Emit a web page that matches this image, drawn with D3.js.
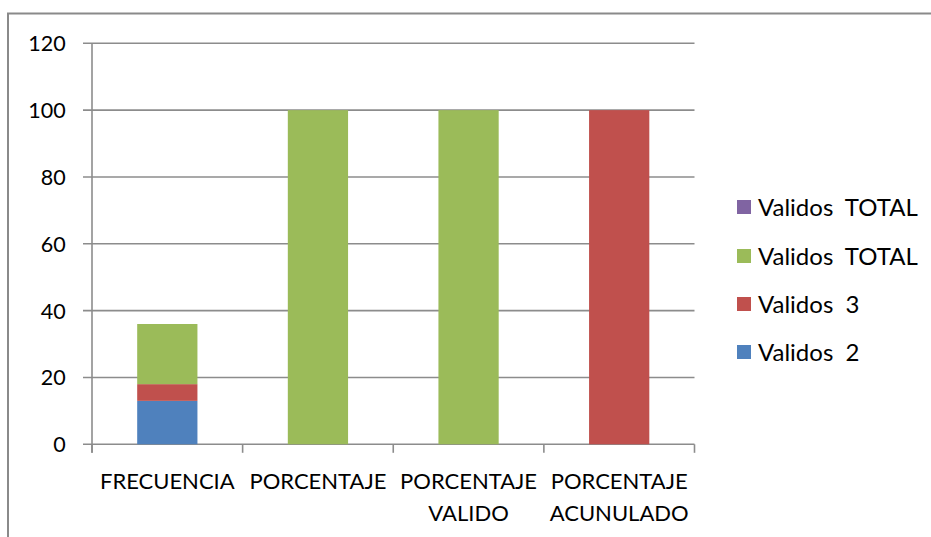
<!DOCTYPE html>
<html>
<head>
<meta charset="utf-8">
<script src="https://cdn.jsdelivr.net/npm/d3@7"></script>
<style>
  html, body { margin: 0; padding: 0; background: #fff; }
  svg text { font-family: Lato, "Open Sans", sans-serif; fill: #000; white-space: pre; }
</style>
</head>
<body>
<svg id="chart" width="931" height="537"></svg>
<script>
// Categories (each label may wrap onto two lines)
const categories = ["FRECUENCIA", "PORCENTAJE", "PORCENTAJE VALIDO", "PORCENTAJE ACUNULADO"];
const categoryLines = [["FRECUENCIA"], ["PORCENTAJE"], ["PORCENTAJE", "VALIDO"], ["PORCENTAJE", "ACUNULADO"]];

// Stacked series, bottom to top
const seriesNames = ["Validos  2", "Validos  3", "Validos  TOTAL", "Validos  TOTAL"];
const validos2 = [13, 0, 0, 0];
const validos3 = [5, 0, 0, 100];
const validosTotal = [18, 100, 100, 0];
const validosTotal2 = [0, 0, 0, 0];
const seriesColors = ["#4F81BD", "#C0504D", "#9BBB59", "#8064A2"];

const yTicks = [0, 20, 40, 60, 80, 100, 120];

const rows = categories.map((c, i) => ({
  cat: c,
  s0: validos2[i], s1: validos3[i], s2: validosTotal[i], s3: validosTotal2[i]
}));
const keys = ["s0", "s1", "s2", "s3"];

const svg = d3.select("#chart");
const plot = { left: 92, right: 694.5, top: 43.3, bottom: 444.3 };
const gridColor = "#8c8c8c";

// Outer frame (top and left edges visible)
svg.append("path")
  .attr("d", "M8,537 L8,13.5 L931,13.5")
  .attr("fill", "none").attr("stroke", "#8a8a8a").attr("stroke-width", 2);

const x = d3.scaleBand().domain(categories)
  .range([plot.left, plot.right]).paddingInner(0.6).paddingOuter(0.3);
const xEdges = d3.scaleBand().domain(categories)
  .range([plot.left, plot.right]).padding(0);
const y = d3.scaleLinear().domain([0, 120]).range([plot.bottom, plot.top]);

// Horizontal gridlines with left tick marks
svg.append("g").selectAll("line").data(yTicks).join("line")
  .attr("x1", plot.left - 9).attr("x2", plot.right)
  .attr("y1", d => y(d)).attr("y2", d => y(d))
  .attr("stroke", gridColor).attr("stroke-width", 1.6);

// Y axis line
svg.append("line")
  .attr("x1", plot.left).attr("x2", plot.left)
  .attr("y1", plot.top).attr("y2", plot.bottom + 8.5)
  .attr("stroke", gridColor).attr("stroke-width", 1.6);

// X axis tick marks at category boundaries
const boundaries = categories.map(c => xEdges(c)).concat([plot.right]);
svg.append("g").selectAll("line").data(boundaries).join("line")
  .attr("x1", d => d).attr("x2", d => d)
  .attr("y1", plot.bottom).attr("y2", plot.bottom + 8.5)
  .attr("stroke", gridColor).attr("stroke-width", 1.6);

// Y tick labels
svg.append("g").selectAll("text").data(yTicks).join("text")
  .attr("x", 65.7).attr("y", d => y(d) + 8)
  .attr("text-anchor", "end").attr("font-size", 21.5)
  .text(d => d);

// Stacked bars
const stacked = d3.stack().keys(keys)(rows);
svg.append("g").selectAll("g").data(stacked).join("g")
  .attr("fill", (d, i) => seriesColors[i])
  .selectAll("rect").data(d => d).join("rect")
  .attr("x", d => x(d.data.cat))
  .attr("width", x.bandwidth())
  .attr("y", d => y(d[1]))
  .attr("height", d => y(d[0]) - y(d[1]));

// Category labels
const catG = svg.append("g").selectAll("text").data(categories).join("text")
  .attr("text-anchor", "middle").attr("font-size", 22)
  .attr("transform", d => `translate(${x(d) + x.bandwidth() / 2},0)`);
catG.selectAll("tspan").data((d, i) => categoryLines[i]).join("tspan")
  .attr("x", 0).attr("y", (d, j) => 488.5 + j * 32)
  .text(d => d);

// Legend, top entry is the last series
const legendOrder = [3, 2, 1, 0];
const legendY = [207, 256, 304, 352];
const leg = svg.append("g").selectAll("g").data(legendOrder).join("g")
  .attr("transform", (d, i) => `translate(737,${legendY[i]})`);
leg.append("rect").attr("x", 0).attr("y", -7).attr("width", 14).attr("height", 14)
  .attr("fill", d => seriesColors[d]);
leg.append("text").attr("x", 21).attr("y", 8.5).attr("font-size", 24)
  .text(d => seriesNames[d]);
</script>
</body>
</html>
